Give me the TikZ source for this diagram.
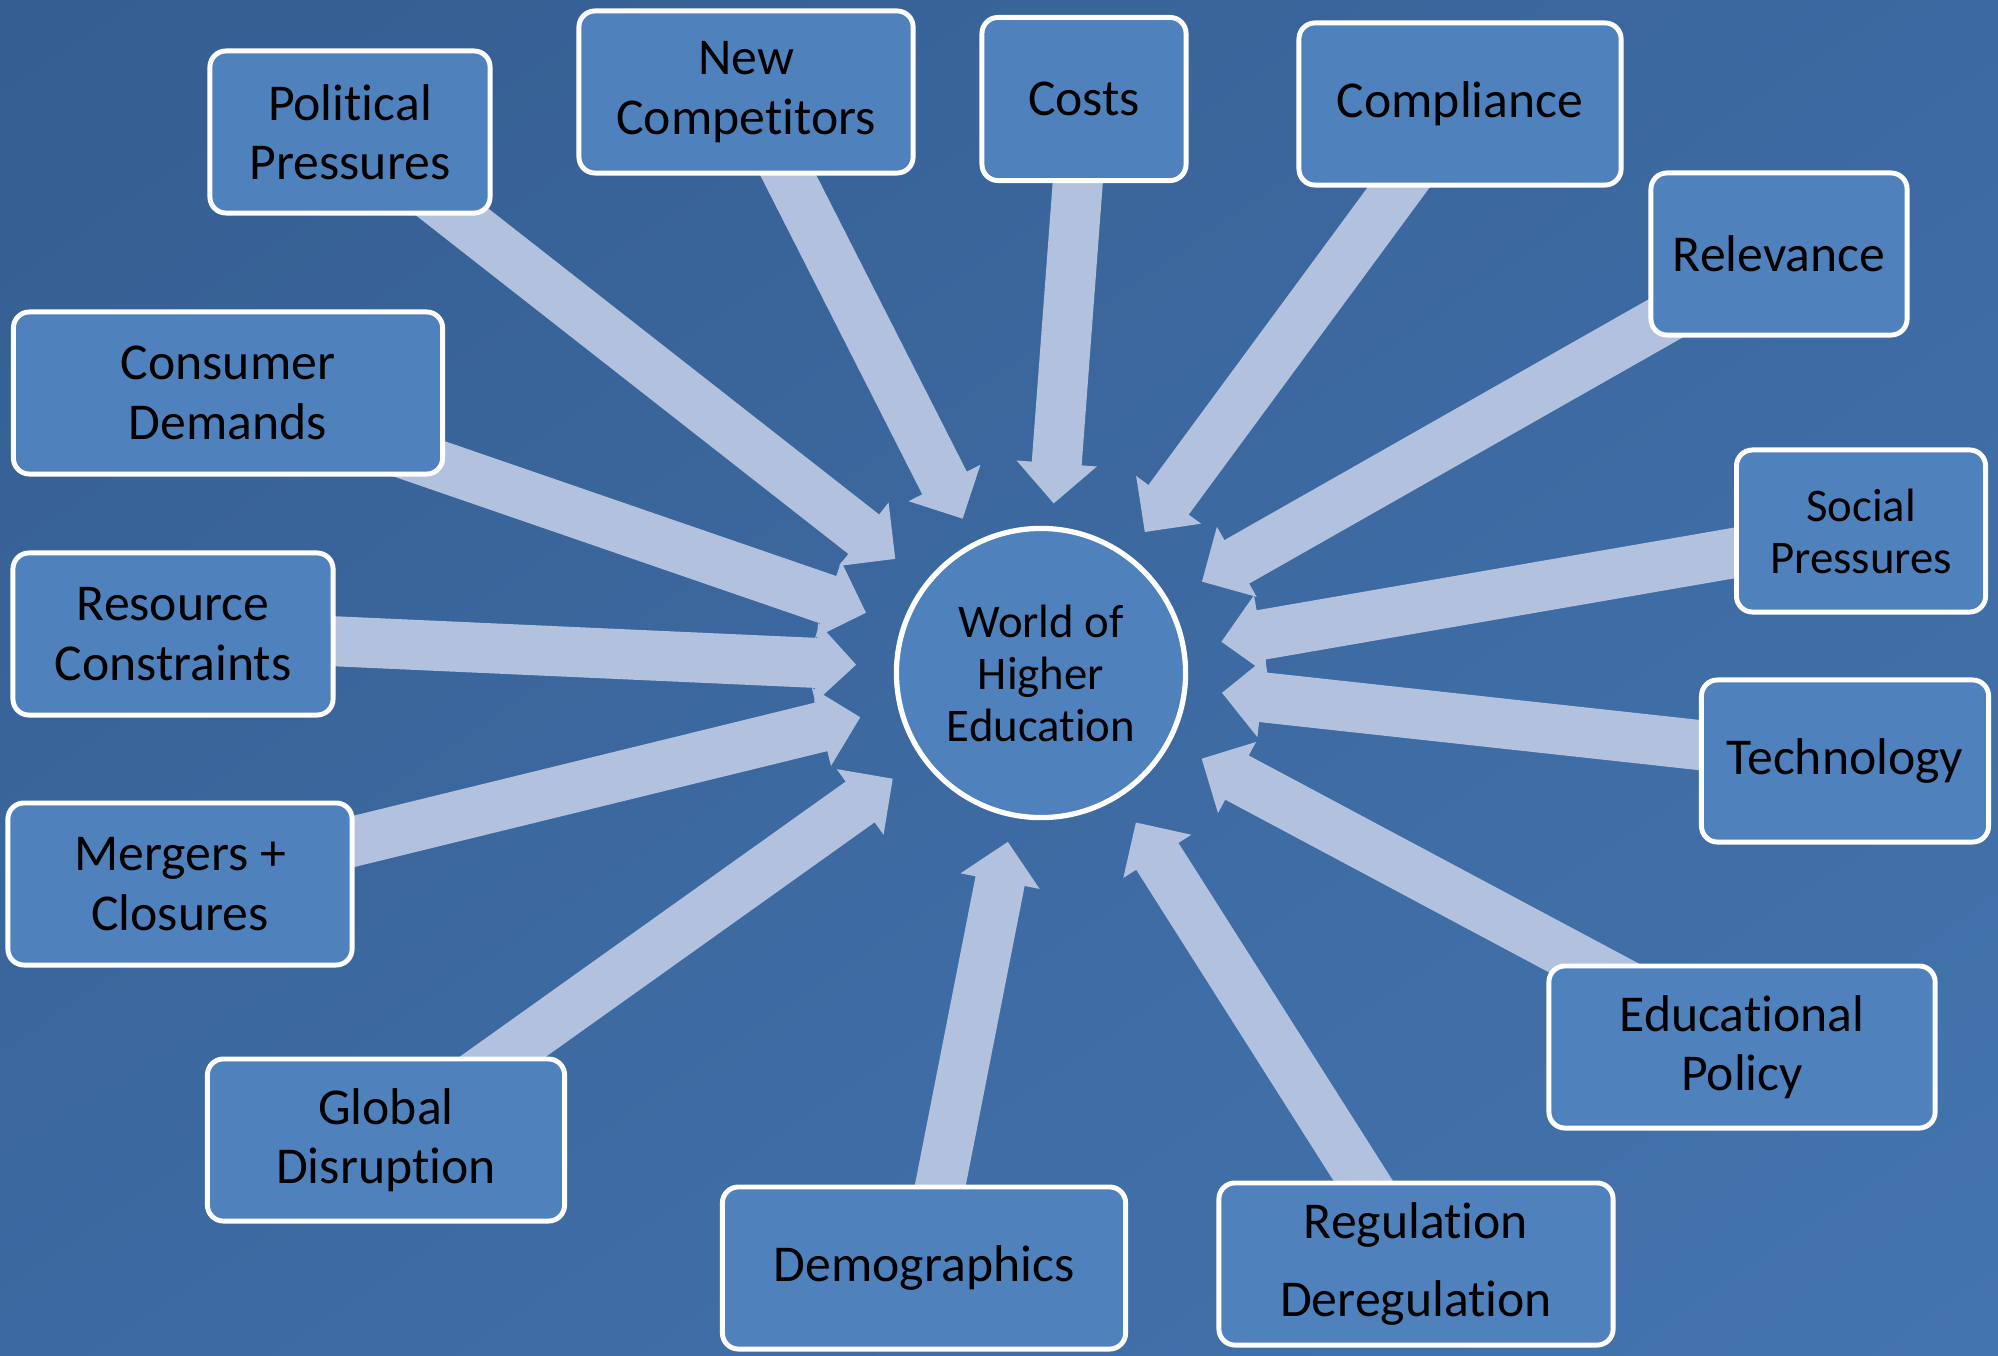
\documentclass[tikz,border=0pt]{standalone}
\usepackage{fontspec}
\setmainfont{Carlito}[Ligatures=NoCommon]
\usepackage{tikz}
\usetikzlibrary{arrows.meta}
\usetikzlibrary{backgrounds}
\usetikzlibrary{calc}
\usetikzlibrary{shadings}
\definecolor{bgdark}{HTML}{355E91}
\definecolor{bgmid}{HTML}{3C69A1}
\definecolor{bglight}{HTML}{4474AE}
\definecolor{boxblue}{HTML}{4F81BD}
\definecolor{pushblue}{HTML}{B2C2DE}
\tikzset{
  factor/.style = {rectangle, rounded corners=0.16cm, draw=white, line width=1.4pt,
    fill=boxblue, align=center, inner sep=0pt, minimum height=1.62cm,
    font=\fontsize{14.7}{16.9}\selectfont},% a force box
  hub/.style = {circle, draw=white, line width=1.5pt, fill=boxblue, align=center,
    inner sep=0pt, minimum size=2.89cm, font=\fontsize{13.3}{14.8}\selectfont},
  push/.style = {draw=pushblue, line width=0.5cm,
    -{Triangle[width=0.8cm,length=0.4cm,line width=0.8pt]}}% fat block arrow
}

\begin{document}
\begin{tikzpicture}[x=0.01cm,y=-0.01cm]
\useasboundingbox (0,0) rectangle (1998,1355);

\node [hub] (hub) at (1041,673) {World of\\Higher\\Education};

\node [factor, minimum width=2.80cm] (pol) at (350,132) {Political\\Pressures};
\node [factor, minimum width=3.34cm] (newc) at (746,92) {New\\Competitors};
\node [factor, minimum width=2.04cm, minimum height=1.63cm] (costs) at (1084,99) {Costs};
\node [factor, minimum width=3.22cm] (compl) at (1460,104) {Compliance};
\node [factor, minimum width=2.56cm] (relev) at (1779,254) {Relevance};
\node [factor, minimum width=2.49cm, font=\fontsize{13.3}{14.8}\selectfont] (social) at (1861,531) {Social\\Pressures};
\node [factor, minimum width=2.87cm] (tech) at (1845,761) {Technology};
\node [factor, minimum width=3.86cm] (edu) at (1742,1047) {Educational\\Policy};
\node [factor, minimum width=3.94cm] (reg) at (1416,1264) {Regulation\\[5.5pt]Deregulation};
\node [factor, minimum width=4.03cm] (demo) at (924,1268) {Demographics};
\node [factor, minimum width=3.57cm] (glob) at (386,1140) {Global\\Disruption};
\node [factor, minimum width=3.44cm] (merg) at (180,884) {Mergers +\\Closures};
\node [factor, minimum width=3.20cm] (res) at (173,634) {Resource\\Constraints};
\node [factor, minimum width=4.29cm] (cons) at (228,393) {Consumer\\Demands};

\begin{scope}[on background layer]
\shade [upper left=bgdark, upper right=bgmid, lower left=bgmid, lower right=bglight]
  (0,0) rectangle (1998,1355);
\foreach \n/\d in {pol/1.85cm, newc/1.73cm, costs/1.70cm, compl/1.75cm,
    relev/1.85cm, social/1.83cm, tech/1.82cm, edu/1.82cm, reg/1.77cm,
    demo/1.72cm, glob/1.82cm, merg/1.86cm, res/1.85cm, cons/1.85cm}
  \draw [push] (\n.center) -- ($(hub.center)!\d!(\n.center)$);
\end{scope}
\end{tikzpicture}
\end{document}
